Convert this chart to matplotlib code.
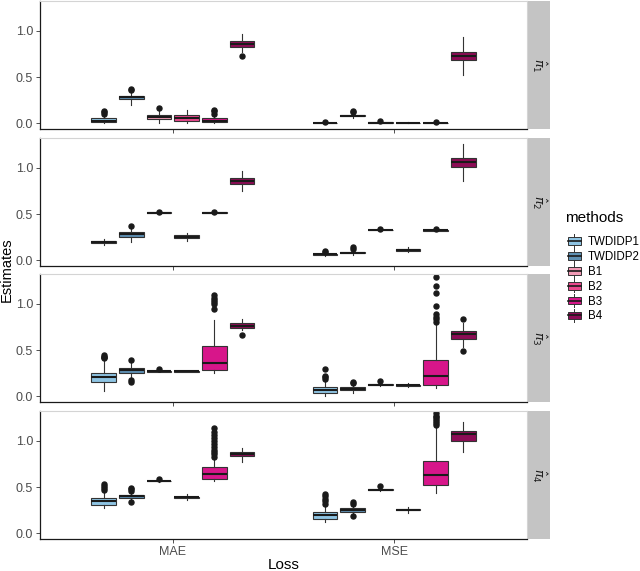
import matplotlib
matplotlib.use('Agg')
import matplotlib.pyplot as plt
from matplotlib.legend_handler import HandlerBase
from matplotlib.patches import Rectangle, Patch
from matplotlib.lines import Line2D

methods = ['TWDIDP1', 'TWDIDP2', 'B1', 'B2', 'B3', 'B4']
colors = ['#8ec4e3', '#5d8fb2', '#f29bb6', '#e9478c', '#d7168a', '#8c0c55']
losses = ['MAE', 'MSE']
facets = [r'$\hat{\pi}_1$', r'$\hat{\pi}_2$', r'$\hat{\pi}_3$', r'$\hat{\pi}_4$']

# box stats: [facet][loss][method]
whislo = [
    [[0.0, 0.20, 0.0, 0.0, 0.0, 0.77], [0.0, 0.06, 0.0, 0.0, 0.0, 0.52]],
    [[0.17, 0.20, 0.505, 0.21, 0.505, 0.75], [0.05, 0.06, 0.325, 0.09, 0.32, 0.86]],
    [[0.055, 0.20, 0.265, 0.265, 0.25, 0.72], [0.01, 0.04, 0.11, 0.10, 0.096, 0.53]],
    [[0.27, 0.35, 0.555, 0.36, 0.56, 0.77], [0.118, 0.20, 0.46, 0.22, 0.436, 0.88]],
]
q1 = [
    [[0.015, 0.26, 0.045, 0.03, 0.015, 0.825], [0.0, 0.075, 0.005, 0.002, 0.001, 0.685]],
    [[0.19, 0.255, 0.51, 0.245, 0.51, 0.825], [0.06, 0.075, 0.328, 0.10, 0.322, 1.01]],
    [[0.16, 0.257, 0.268, 0.268, 0.286, 0.736], [0.032, 0.064, 0.12, 0.115, 0.121, 0.618]],
    [[0.31, 0.379, 0.56, 0.385, 0.589, 0.832], [0.16, 0.232, 0.465, 0.25, 0.518, 1.0]],
]
med = [
    [[0.03, 0.28, 0.07, 0.055, 0.03, 0.857], [0.002, 0.08, 0.01, 0.005, 0.003, 0.73]],
    [[0.197, 0.28, 0.513, 0.255, 0.513, 0.857], [0.065, 0.083, 0.33, 0.11, 0.325, 1.06]],
    [[0.207, 0.28, 0.272, 0.27, 0.364, 0.76], [0.064, 0.08, 0.125, 0.12, 0.225, 0.668]],
    [[0.35, 0.40, 0.565, 0.39, 0.639, 0.857], [0.196, 0.25, 0.47, 0.255, 0.632, 1.07]],
]
q3 = [
    [[0.055, 0.30, 0.095, 0.09, 0.055, 0.885], [0.005, 0.09, 0.015, 0.008, 0.005, 0.775]],
    [[0.205, 0.31, 0.518, 0.27, 0.518, 0.885], [0.07, 0.09, 0.333, 0.12, 0.328, 1.10]],
    [[0.257, 0.307, 0.276, 0.272, 0.539, 0.793], [0.10, 0.10, 0.132, 0.125, 0.389, 0.707]],
    [[0.382, 0.418, 0.57, 0.395, 0.718, 0.882], [0.232, 0.27, 0.475, 0.26, 0.779, 1.10]],
]
whishi = [
    [[0.09, 0.34, 0.13, 0.14, 0.09, 0.96], [0.012, 0.11, 0.02, 0.015, 0.01, 0.93]],
    [[0.23, 0.345, 0.522, 0.30, 0.522, 0.965], [0.085, 0.11, 0.336, 0.14, 0.331, 1.26]],
    [[0.40, 0.36, 0.28, 0.275, 0.82, 0.84], [0.17, 0.12, 0.14, 0.14, 0.79, 0.79]],
    [[0.45, 0.45, 0.575, 0.42, 0.80, 0.92], [0.30, 0.30, 0.48, 0.29, 1.15, 1.20]],
]
outliers = [
    [[[0.10, 0.12, 0.135], [0.36, 0.375], [0.165], [], [0.10, 0.13, 0.15], [0.725]],
     [[0.02], [0.12, 0.135], [0.025], [], [0.015], []]],
    [[[], [0.37], [0.525], [], [0.525], []],
     [[0.095, 0.105], [0.12, 0.14], [0.34], [], [0.335], []]],
    [[[0.41, 0.42, 0.43, 0.45], [0.16, 0.175, 0.39], [0.30], [], [0.94, 1.0, 1.02, 1.04, 1.06, 1.09], [0.657]],
     [[0.19, 0.21, 0.22, 0.30], [0.14, 0.16], [0.17], [], [0.80, 0.83, 0.86, 0.89, 0.98, 1.11, 1.19, 1.29], [0.49, 0.83]]],
    [[[0.47, 0.49, 0.51, 0.53], [0.336, 0.46, 0.48, 0.49], [0.59], [], [0.82, 0.86, 0.88, 0.90, 0.93, 0.96, 1.0, 1.03, 1.06, 1.09, 1.14], []],
     [[0.32, 0.35, 0.37, 0.40, 0.42], [0.19, 0.32, 0.34], [0.51], [], [1.17, 1.19, 1.21, 1.23, 1.25, 1.27, 1.30], []]],
]

W, H = 640, 571
fig = plt.figure(figsize=(W / 100, H / 100), dpi=100)
plt.rcParams['font.family'] = ['Liberation Sans', 'DejaVu Sans']

left, right = 40, 527
tops = [1, 138, 274, 411]
ph = 128
dodge = 0.75 / 6
bw = dodge * 0.9

for i in range(4):
    ax = fig.add_axes([left / W, 1 - (tops[i] + ph) / H, (right - left) / W, ph / H])
    for li in range(2):
        for m in range(6):
            pos = li + 1 - 0.375 + dodge * (m + 0.5)
            st = dict(whislo=whislo[i][li][m], q1=q1[i][li][m], med=med[i][li][m],
                      q3=q3[i][li][m], whishi=whishi[i][li][m], fliers=outliers[i][li][m])
            ax.bxp([st], positions=[pos], widths=bw, patch_artist=True, showcaps=False,
                   boxprops=dict(facecolor=colors[m], edgecolor='#333333', linewidth=0.8),
                   medianprops=dict(color='#1a1a1a', linewidth=1.5),
                   whiskerprops=dict(color='#333333', linewidth=0.8),
                   flierprops=dict(marker='o', markerfacecolor='#1a1a1a', markeredgecolor='#1a1a1a',
                                   markersize=3.6))
    ax.set_xlim(0.4, 2.6)
    ax.set_ylim(-0.06, 1.32)
    ax.set_yticks([0.0, 0.5, 1.0])
    ax.set_yticklabels(['0.0', '0.5', '1.0'])
    ax.set_xticks([1, 2])
    if i == 3:
        ax.set_xticklabels(losses)
    else:
        ax.set_xticklabels([])
        ax.tick_params(axis='x', length=0)
    ax.tick_params(labelsize=9, colors='#333333', labelcolor='#4d4d4d', length=3, width=0.6, pad=2)
    for s in ['top', 'right']:
        ax.spines[s].set_color('#d4d4d4')
        ax.spines[s].set_linewidth(0.8)
    for s in ['left', 'bottom']:
        ax.spines[s].set_color('#1a1a1a')
        ax.spines[s].set_linewidth(0.9)

    sax = fig.add_axes([(right + 1) / W, 1 - (tops[i] + ph) / H, 22 / W, ph / H])
    sax.set_facecolor('#c4c4c4')
    sax.set_xticks([])
    sax.set_yticks([])
    for s in sax.spines.values():
        s.set_visible(False)
    sax.text(0.5, 0.5, facets[i], rotation=-90, ha='center', va='center', fontsize=9,
             color='#1a1a1a', transform=sax.transAxes)

fig.text(7 / W, 1 - 270 / H, 'Estimates', rotation=90, ha='center', va='center', fontsize=10.5)
fig.text((left + right) / 2 / W, 1 - 565 / H, 'Loss', ha='center', va='center', fontsize=11)
fig.text(565 / W, 1 - 218 / H, 'methods', ha='left', va='center', fontsize=11)


class BoxKey(HandlerBase):
    def create_artists(self, legend, orig, xd, yd, w, h, fontsize, trans):
        x0, y0 = -xd, -yd
        wh = Line2D([x0 + w / 2] * 2, [y0 - h * 0.15, y0 + h * 1.15], color='#333333', lw=0.7,
                    transform=trans)
        rect = Rectangle((x0, y0 + h * 0.12), w, h * 0.76, facecolor=orig.get_facecolor(),
                         edgecolor='#333333', lw=0.7, transform=trans)
        md = Line2D([x0, x0 + w], [y0 + h / 2] * 2, color='#1a1a1a', lw=1.2, transform=trans)
        return [wh, rect, md]


handles = [Patch(facecolor=c) for c in colors]
fig.legend(handles, methods, loc='upper left',
           bbox_to_anchor=(561 / W, 1 - 229 / H), frameon=False, fontsize=8.3,
           handler_map={Patch: BoxKey()}, handlelength=1.1, handleheight=1.0,
           labelspacing=0.24, handletextpad=0.6, borderaxespad=0.2)

fig.savefig('out.png', dpi=100)
